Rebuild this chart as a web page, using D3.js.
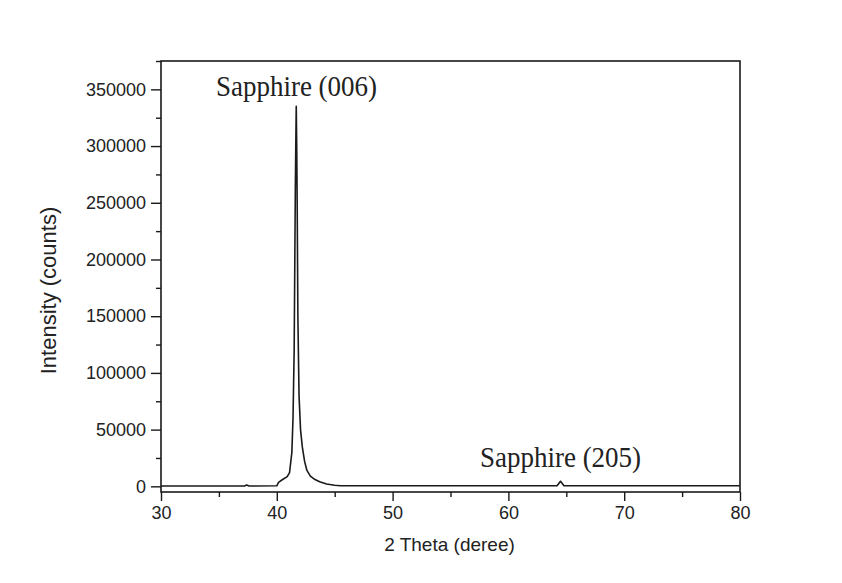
<!DOCTYPE html>
<html><head><meta charset="utf-8">
<script src="https://cdn.jsdelivr.net/npm/d3@7/dist/d3.min.js"></script>
<style>body{margin:0;background:#fff}</style></head>
<body><svg id="c" width="842" height="583"></svg>
<script>
const twoTheta = [30, 37.2, 37.4, 37.6, 40.0, 40.15, 40.5, 40.9, 41.1, 41.3, 41.4, 41.5, 41.6, 41.64, 41.68, 41.72, 41.76, 41.82, 41.92, 42.05, 42.2, 42.4, 42.6, 42.9, 43.3, 43.7, 44.3, 45.0, 45.5, 64.2, 64.35, 64.5, 64.65, 64.8, 80];
const intensity = [300, 300, 1200, 300, 500, 3500, 6000, 8500, 12000, 30000, 60000, 120000, 262000, 300000, 335000, 300000, 250000, 150000, 80000, 50000, 35000, 22000, 14000, 9000, 6000, 4000, 2000, 900, 500, 500, 2500, 4500, 2500, 500, 500];
const xTicks = [30, 40, 50, 60, 70, 80];
const yTicks = [0, 50000, 100000, 150000, 200000, 250000, 300000, 350000];
const peakLabels = [{t: "Sapphire (006)", x: 41.7, y: 344500}, {t: "Sapphire (205)", x: 64.5, y: 17000}];

const svg = d3.select("#c");
const L = 161, T = 61, W = 579, H = 431;
const x = d3.scaleLinear().domain([30, 80]).range([L, L + W]);
const y = d3.scaleLinear().domain([-5000, 375000]).range([T + H, T]);
const col = "#1a1a1a";

// frame
svg.append("rect").attr("x", L).attr("y", T).attr("width", W).attr("height", H)
  .attr("fill", "none").attr("stroke", col).attr("stroke-width", 1.6);

// x axis
const xa = svg.append("g").attr("transform", `translate(0,${T + H})`)
  .call(d3.axisBottom(x).tickValues(xTicks).tickSize(9).tickPadding(5).tickFormat(d3.format("d")));
xa.select(".domain").remove();
xa.selectAll("line").attr("stroke", col).attr("stroke-width", 1.4);
xa.selectAll("text").attr("font-family", "Liberation Sans, Arial, sans-serif").attr("font-size", 18).attr("fill", "#222");
const xm = svg.append("g").attr("transform", `translate(0,${T + H})`)
  .call(d3.axisBottom(x).tickValues([35, 45, 55, 65, 75]).tickSize(5).tickFormat(""));
xm.select(".domain").remove();
xm.selectAll("line").attr("stroke", col).attr("stroke-width", 1.4);

// y axis
const ya = svg.append("g").attr("transform", `translate(${L},0)`)
  .call(d3.axisLeft(y).tickValues(yTicks).tickSize(10).tickPadding(5).tickFormat(d3.format("d")));
ya.select(".domain").remove();
ya.selectAll("line").attr("stroke", col).attr("stroke-width", 1.4);
ya.selectAll("text").attr("font-family", "Liberation Sans, Arial, sans-serif").attr("font-size", 18).attr("fill", "#222");
const ym = svg.append("g").attr("transform", `translate(${L},0)`)
  .call(d3.axisLeft(y).tickValues(yTicks.map(v => v + 25000)).tickSize(5).tickFormat(""));
ym.select(".domain").remove();
ym.selectAll("line").attr("stroke", col).attr("stroke-width", 1.4);

// data line
const pts = twoTheta.map((t, i) => [t, intensity[i]]);
svg.append("path").datum(pts)
  .attr("d", d3.line().x(d => x(d[0])).y(d => y(d[1])))
  .attr("fill", "none").attr("stroke", col).attr("stroke-width", 1.6).attr("stroke-linejoin", "round");

// peak labels
svg.selectAll(".pl").data(peakLabels).join("text")
  .attr("transform", d => `translate(${x(d.x)},${y(d.y)}) scale(1,1.1)`).attr("text-anchor", "middle")
  .attr("font-family", "Liberation Serif, Times New Roman, serif").attr("font-size", 27).attr("fill", "#222")
  .text(d => d.t);

// axis titles
svg.append("text").attr("x", L + W / 2 - 1).attr("y", 551).attr("text-anchor", "middle")
  .attr("font-family", "Liberation Sans, Arial, sans-serif").attr("font-size", 19).attr("fill", "#222")
  .text("2 Theta (deree)");
svg.append("text").attr("transform", `translate(56,${T + H / 2 + 14}) rotate(-90)`).attr("text-anchor", "middle")
  .attr("font-family", "Liberation Sans, Arial, sans-serif").attr("font-size", 22).attr("fill", "#222")
  .text("Intensity (counts)");
</script></body></html>
